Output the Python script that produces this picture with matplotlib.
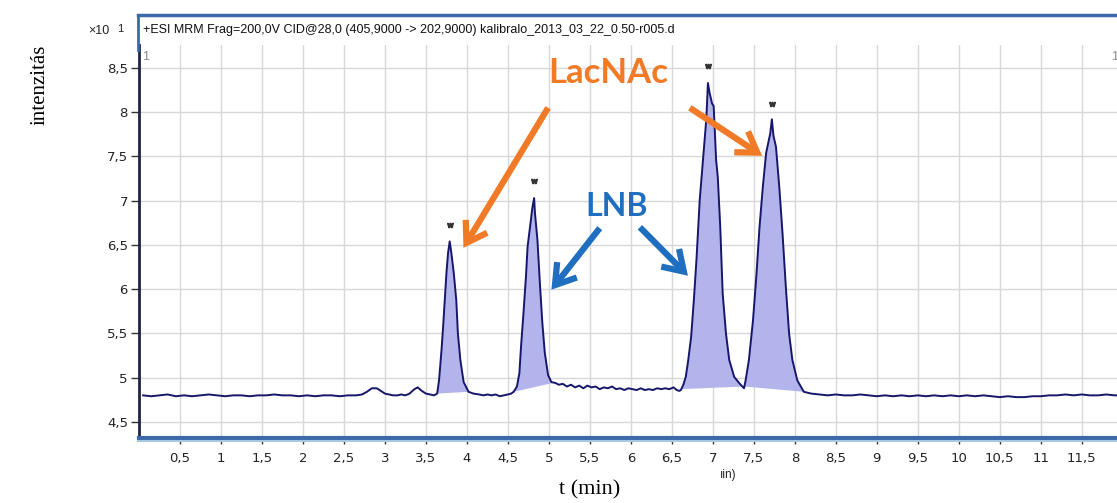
import matplotlib.pyplot as plt
from matplotlib.lines import Line2D

# chromatogram (retention time in min, intensity x10)
time = [0.05, 0.15, 0.25, 0.35, 0.45, 0.55, 0.65, 0.75, 0.85, 0.95, 1.05, 1.15, 1.25, 1.35,
        1.45, 1.55, 1.65, 1.75, 1.85, 1.95, 2.05, 2.15, 2.25, 2.35, 2.45, 2.55, 2.65, 2.72,
        2.78, 2.84, 2.90, 2.95, 3.00, 3.05, 3.10, 3.15, 3.20, 3.25, 3.30, 3.36, 3.40, 3.45,
        3.50, 3.55, 3.60,
        3.637, 3.66, 3.69, 3.71, 3.73, 3.75, 3.77, 3.79, 3.81, 3.84, 3.87, 3.89, 3.92, 3.96, 4.02,
        4.08, 4.15, 4.20, 4.25, 4.30, 4.35, 4.40, 4.45, 4.50, 4.54,
        4.57, 4.61, 4.64, 4.66, 4.69, 4.72, 4.74, 4.77, 4.80, 4.82, 4.83, 4.86, 4.89, 4.92,
        4.95, 4.99, 5.03, 5.08, 5.12,
        5.17, 5.22, 5.27, 5.32, 5.37, 5.42, 5.47, 5.52, 5.57, 5.62, 5.67, 5.72, 5.77, 5.82,
        5.87, 5.92, 5.97, 6.02, 6.07, 6.12, 6.17, 6.22, 6.27, 6.32, 6.37, 6.42, 6.47, 6.52,
        6.56, 6.59,
        6.61, 6.64, 6.67, 6.70, 6.735, 6.77, 6.80, 6.84, 6.88, 6.92, 6.94, 6.96, 6.99, 7.01,
        7.04, 7.06, 7.09, 7.12, 7.16, 7.20, 7.26, 7.32, 7.38,
        7.40, 7.44, 7.49, 7.53, 7.57, 7.61, 7.65, 7.70, 7.72, 7.74, 7.77, 7.81, 7.85, 7.89,
        7.93, 7.97, 8.03, 8.11, 8.20,
        8.3, 8.4, 8.5, 8.6, 8.7, 8.8, 8.9, 9.0, 9.1, 9.2, 9.3, 9.4, 9.5, 9.6, 9.7, 9.8, 9.9,
        10.0, 10.1, 10.2, 10.3, 10.4, 10.5, 10.6, 10.7, 10.8, 10.9, 11.0, 11.1, 11.2, 11.3,
        11.4, 11.5, 11.6, 11.7, 11.8, 11.9, 11.95]
intensity = [4.80, 4.79, 4.80, 4.81, 4.79, 4.80, 4.79, 4.80, 4.81, 4.80, 4.79, 4.80, 4.80, 4.79,
             4.80, 4.80, 4.81, 4.80, 4.80, 4.79, 4.80, 4.79, 4.80, 4.80, 4.79, 4.80, 4.80, 4.81,
             4.84, 4.88, 4.88, 4.85, 4.82, 4.81, 4.80, 4.80, 4.81, 4.80, 4.82, 4.87, 4.89, 4.85,
             4.82, 4.81, 4.80,
             4.82, 4.97, 5.31, 5.58, 5.88, 6.18, 6.41, 6.54, 6.41, 6.18, 5.88, 5.50, 5.20, 4.95, 4.84,
             4.82, 4.81, 4.80, 4.81, 4.80, 4.81, 4.79, 4.80, 4.81, 4.82,
             4.84, 4.90, 5.05, 5.35, 5.73, 6.14, 6.48, 6.71, 6.93, 7.03, 6.86, 6.56, 6.07, 5.62,
             5.28, 5.03, 4.95, 4.94, 4.92,
             4.93, 4.90, 4.92, 4.89, 4.91, 4.88, 4.91, 4.89, 4.90, 4.87, 4.89, 4.88, 4.90, 4.87,
             4.88, 4.86, 4.88, 4.87, 4.86, 4.88, 4.86, 4.87, 4.86, 4.88, 4.87, 4.88, 4.87, 4.89,
             4.86, 4.85,
             4.86, 4.92, 5.01, 5.20, 5.46, 5.90, 6.33, 7.01, 7.46, 7.92, 8.33, 8.22, 8.10, 8.07,
             7.46, 7.27, 6.71, 5.95, 5.50, 5.20, 5.01, 4.94, 4.88,
             4.97, 5.20, 5.65, 6.14, 6.71, 7.16, 7.54, 7.76, 7.92, 7.73, 7.61, 7.16, 6.63, 6.03,
             5.50, 5.20, 4.97, 4.84, 4.82,
             4.81, 4.80, 4.81, 4.80, 4.80, 4.81, 4.80, 4.79, 4.80, 4.79, 4.80, 4.79, 4.80, 4.79,
             4.80, 4.79, 4.80, 4.79, 4.80, 4.79, 4.80, 4.79, 4.78, 4.79, 4.78, 4.78, 4.79, 4.79,
             4.80, 4.80, 4.81, 4.80, 4.81, 4.80, 4.80, 4.81, 4.80, 4.80]

# integrated peaks: start time, end time, baseline value at start / end
peak_windows = [(3.637, 4.02, 4.82, 4.84), (4.57, 5.05, 4.84, 4.94),
                (6.61, 7.38, 4.87, 4.90), (7.38, 8.11, 4.90, 4.84)]
apex_time = [3.79, 4.82, 6.94, 7.72]
apex_mark = [6.73, 7.22, 8.52, 8.09]

xticks = [0.5, 1, 1.5, 2, 2.5, 3, 3.5, 4, 4.5, 5, 5.5, 6, 6.5, 7, 7.5, 8, 8.5, 9, 9.5,
          10, 10.5, 11, 11.5]
yticks = [4.5, 5, 5.5, 6, 6.5, 7, 7.5, 8, 8.5]

header = '+ESI MRM Frag=200,0V CID@28,0 (405,9000 -> 202,9000) kalibralo_2013_03_22_0.50-r005.d'

line_col = '#16166a'
fill_col = '#b4b4ec'
orange = '#f07a26'
blue = '#1f6ec0'
frame_col = '#3c6aa8'


def comma(v):
    s = ('%g' % v).replace('.', ',')
    return s


fig = plt.figure(figsize=(11.17, 5.03), dpi=100)
ax = fig.add_axes([139 / 1117, 1 - 438 / 503, 978 / 1117, 393 / 503])

# filled peak areas
for t0, t1, b0, b1 in peak_windows:
    xs = [t for t in time if t0 <= t <= t1]
    ys = [v for t, v in zip(time, intensity) if t0 <= t <= t1]
    ax.fill(xs + [t1, t0], ys + [b1, b0], color=fill_col, lw=0, zorder=2)

ax.plot(time, intensity, color=line_col, lw=1.4, zorder=3)
ax.plot(apex_time, apex_mark, ls='none', marker=r'$\mathsf{w}$', ms=4, color='#333333', zorder=3)

ax.set_xlim(0, 11.93)
ax.set_ylim(4.318, 8.76)
ax.set_xticks(xticks)
ax.set_xticklabels([comma(v) for v in xticks])
ax.set_yticks(yticks)
ax.set_yticklabels([comma(v) for v in yticks])
ax.grid(True, color='#d8d8d8', lw=1)
ax.set_axisbelow(True)
ax.tick_params(axis='x', length=4, width=1, pad=6, labelsize=9.5, color='#333333', labelcolor='#222222')
ax.tick_params(axis='y', length=6, width=1, pad=2, labelsize=9.5, color='#333333', labelcolor='#222222')

for side in ['top', 'right']:
    ax.spines[side].set_visible(False)
ax.spines['left'].set_color('#1c2640')
ax.spines['left'].set_linewidth(2)
ax.spines['bottom'].set_color(frame_col)
ax.spines['bottom'].set_linewidth(3)

# frame of the header band
fig.add_artist(Line2D([138 / 1117, 1], [1 - 15 / 503, 1 - 15 / 503], color=frame_col, lw=2.5))
fig.add_artist(Line2D([138 / 1117, 138 / 1117], [1 - 15 / 503, 1 - 50 / 503], color=frame_col, lw=2))
fig.add_artist(Line2D([138 / 1117, 1], [1 - 441 / 503, 1 - 441 / 503], color='#a8c8e0', lw=1.5))
fig.text(143 / 1117, 1 - 30 / 503, header, fontsize=9, va='center', ha='left',
         family='Liberation Sans', color='#111111')
fig.text(88 / 1117, 1 - 31 / 503, '×10', fontsize=9, va='center', ha='left',
         family='Liberation Sans', color='#222222')
fig.text(117 / 1117, 1 - 29 / 503, '1', fontsize=8, va='center', ha='left',
         family='Liberation Sans', color='#222222')
fig.text(142 / 1117, 1 - 57 / 503, '1', fontsize=9, va='center', ha='left', color='#888888',
         family='Liberation Sans')
fig.text(1111 / 1117, 1 - 57 / 503, '1', fontsize=9, va='center', ha='left', color='#888888',
         family='Liberation Sans')
fig.text(720 / 1117, 1 - 475 / 503, 'ıin)', fontsize=8.5, va='center', ha='left',
         family='Liberation Sans', color='#222222')

# outer labels
fig.text(590 / 1117, 1 - 490 / 503, 't (min)', fontsize=16, va='center', ha='center',
         family='Liberation Serif')
fig.text(40 / 1117, 1 - 85 / 503, 'intenzitás', fontsize=15, va='center', ha='center',
         rotation=90, family='Liberation Serif')

# annotations
ax.text(5.73, 8.44, 'LacNAc', fontsize=25, fontweight='bold', color=orange,
        ha='center', va='center', family='Lato')
ax.text(5.83, 6.94, 'LNB', fontsize=23, fontweight='bold', color=blue,
        ha='center', va='center', family='Lato')
arrow_orange = dict(arrowstyle='->,head_length=0.7,head_width=0.45', lw=4.5, color=orange,
                    mutation_scale=20, shrinkA=0, shrinkB=2, capstyle='butt', joinstyle='miter')
arrow_blue = dict(arrowstyle='->,head_length=0.7,head_width=0.45', lw=4.5, color=blue,
                  mutation_scale=20, shrinkA=0, shrinkB=2, capstyle='butt', joinstyle='miter')
ax.annotate('', xy=(3.94, 6.44), xytext=(4.99, 8.05), arrowprops=arrow_orange)
ax.annotate('', xy=(7.63, 7.49), xytext=(6.72, 8.05), arrowprops=arrow_orange)
ax.annotate('', xy=(5.01, 5.97), xytext=(5.62, 6.69), arrowprops=arrow_blue)
ax.annotate('', xy=(6.72, 6.13), xytext=(6.11, 6.70), arrowprops=arrow_blue)

plt.savefig('out.png', dpi=100)
